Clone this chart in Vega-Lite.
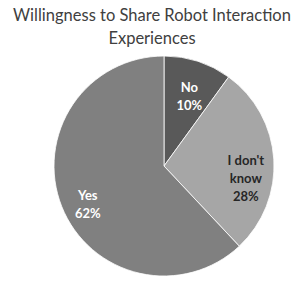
{
  "$schema": "https://vega.github.io/schema/vega-lite/v6.json",
  "autosize": "none",
  "width": 220,
  "height": 222,
  "padding": {"left": 54, "top": 55, "right": 30, "bottom": 8},
  "background": "white",
  "title": {
    "text": ["Willingness to Share Robot Interaction", "Experiences"],
    "font": "Lato",
    "fontSize": 16.5,
    "fontWeight": "normal",
    "color": "#404040",
    "anchor": "middle",
    "dx": -12,
    "offset": 7,
    "lineHeight": 23,
    "limit": 0
  },
  "data": {
    "values": [
      {"cat": "No", "label": "No\n10%", "pct": 10, "rank": 1},
      {"cat": "I don't know", "label": "I don't\nknow\n28%", "pct": 28, "rank": 2},
      {"cat": "Yes", "label": "Yes\n62%", "pct": 62, "rank": 3}
    ]
  },
  "encoding": {
    "theta": {"field": "pct", "type": "quantitative", "stack": true},
    "order": {"field": "rank", "type": "quantitative"}
  },
  "layer": [
    {
      "mark": {"type": "arc", "outerRadius": 110, "stroke": "white", "strokeWidth": 0.8},
      "encoding": {
        "color": {
          "field": "cat",
          "type": "nominal",
          "scale": {"domain": ["No", "I don't know", "Yes"], "range": ["#595959", "#a6a6a6", "#808080"]},
          "legend": null
        }
      }
    },
    {
      "mark": {"type": "text", "radius": 82, "font": "Lato", "fontSize": 13, "fontWeight": "bold", "lineBreak": "\n", "lineHeight": 18, "align": "center", "baseline": "middle"},
      "encoding": {
        "text": {"field": "label", "type": "nominal"},
        "color": {"condition": {"test": "datum.cat === \"I don't know\"", "value": "#262626"}, "value": "white"}
      }
    }
  ],
  "config": {"view": {"stroke": null}}
}
